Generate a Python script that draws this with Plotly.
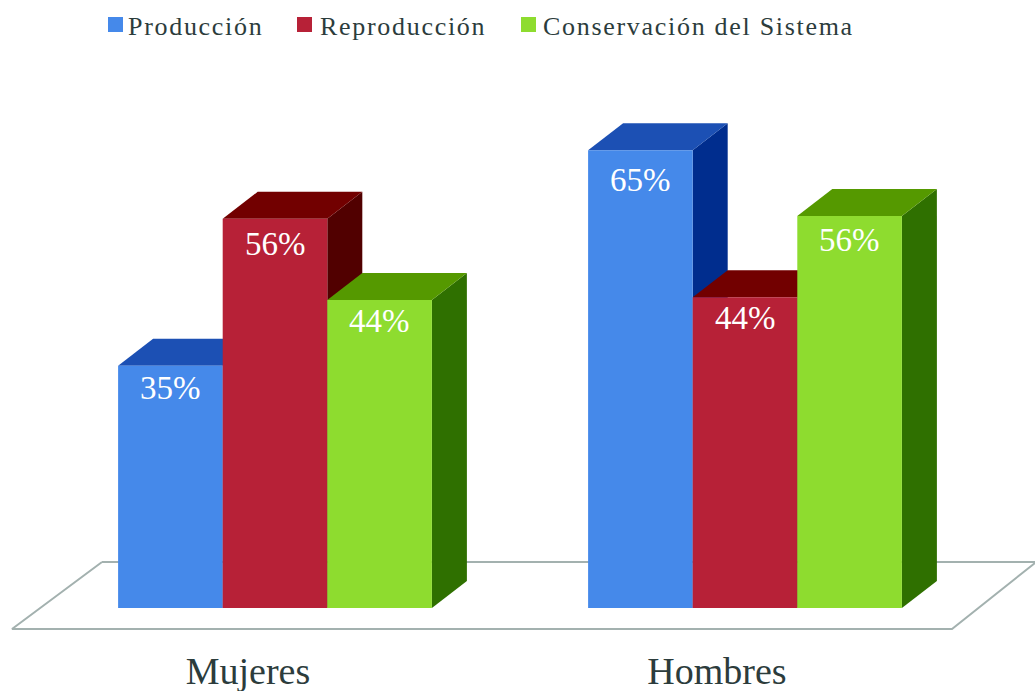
import plotly.graph_objects as go

categorias = ['Mujeres', 'Hombres']
series = ['Producción', 'Reproducción', 'Conservación del Sistema']

# altura, % por serie (Mujeres, Hombres)
produccion = [34.6, 65.4]
reproduccion = [55.6, 44.4]
conservacion = [44.0, 56.0]
etiquetas = [['35%', '65%'], ['56%', '44%'], ['44%', '56%']]
valores = [produccion, reproduccion, conservacion]

col_frente = ['#4589EA', '#B72137', '#8EDC2F']
col_tapa = ['#1C50B4', '#720000', '#559900']
col_lado = ['#002D8E', '#510000', '#2F7000']

W, H = 1035, 691
y_base = 608      # pixel del cero
px_y = 7.0        # pixeles por unidad
y_eje = 645       # pixel del eje x

centros = [275, 745]    # centro de cada grupo
pos_ticks = [248, 717]
ancho = 104.6
prof_x = 35
prof_y = 27 / px_y

# distancia en pixeles de la tapa al centro de cada etiqueta
baja_etiqueta = [[22, 30], [25, 21], [21, 24]]

# suelo, detras de las barras
suelo_x = [102, 12, 952, 1040]
suelo_y = [(y_base - 562) / px_y, (y_base - 629) / px_y, (y_base - 629) / px_y, (y_base - 559) / px_y]

fig = go.Figure()

fig.add_trace(go.Scatter(x=suelo_x, y=suelo_y, mode='lines', line=dict(color='#A3B1AF', width=2),
                         showlegend=False, hoverinfo='skip'))
fig.add_trace(go.Scatter(x=[102, 1040], y=[suelo_y[0], suelo_y[0]], mode='lines',
                         line=dict(color='#A3B1AF', width=2), showlegend=False, hoverinfo='skip'))

# caras laterales y tapas, de izquierda a derecha
for g, centro in enumerate(centros):
    for s in range(3):
        x0 = centro + (s - 1.5) * ancho
        x1 = x0 + ancho
        v = valores[s][g]
        fig.add_trace(go.Scatter(x=[x1, x1 + prof_x, x1 + prof_x, x1, x1],
                                 y=[0, prof_y, v + prof_y, v, 0],
                                 mode='lines', fill='toself', fillcolor=col_lado[s], line=dict(width=0),
                                 showlegend=False, hoverinfo='skip'))
        fig.add_trace(go.Scatter(x=[x0, x1, x1 + prof_x, x0 + prof_x, x0],
                                 y=[v, v, v + prof_y, v + prof_y, v],
                                 mode='lines', fill='toself', fillcolor=col_tapa[s], line=dict(width=0),
                                 showlegend=False, hoverinfo='skip'))

# caras frontales en ejes superpuestos para que tapen lo anterior
for s in range(3):
    fig.add_trace(go.Bar(x=[c + (s - 1) * ancho for c in centros], y=valores[s], width=ancho, name=series[s],
                         marker=dict(color=col_frente[s], line=dict(width=0)),
                         xaxis='x2', yaxis='y2', showlegend=False))
    for g, centro in enumerate(centros):
        fig.add_annotation(xref='x2', yref='y2', x=centro + (s - 1) * ancho, y=valores[s][g], yanchor='middle',
                           yshift=-baja_etiqueta[s][g], showarrow=False, text=etiquetas[s][g],
                           font=dict(family='Liberation Serif', size=33, color='white'))

fig.update_layout(
    width=W, height=H, margin=dict(l=0, r=0, t=0, b=H - y_eje),
    paper_bgcolor='white', plot_bgcolor='white', barmode='overlay',
    xaxis=dict(range=[0, W], tickvals=pos_ticks, ticktext=categorias, ticks='', showgrid=False, zeroline=False,
               showline=False, tickfont=dict(family='Liberation Serif', size=38, color='#2C3C3C')),
    yaxis=dict(range=[(y_base - y_eje) / px_y, y_base / px_y], visible=False),
    xaxis2=dict(overlaying='x', matches='x', visible=False),
    yaxis2=dict(overlaying='y', matches='y', visible=False),
)

# leyenda
leyenda_cuadro = [108, 297, 521]
leyenda_texto = [126, 318, 541]
for s in range(3):
    fig.add_shape(type='rect', xref='x', yref='paper', x0=leyenda_cuadro[s], x1=leyenda_cuadro[s] + 15,
                  y0=(y_eje - 32) / y_eje, y1=(y_eje - 17) / y_eje, fillcolor=col_frente[s], line=dict(width=0))
    fig.add_annotation(xref='x', yref='paper', x=leyenda_texto[s], y=(y_eje - 26) / y_eje, xanchor='left', yanchor='middle',
                       showarrow=False, font=dict(family='Liberation Serif', size=26, color='#2C3C3C'),
                       text='<span style="letter-spacing:1.7px">' + series[s] + '</span>')

# sin el margen del body la figura ocupa toda la ventana
fig.write_html("out.html", config={'displayModeBar': False}, post_script="document.body.style.margin='0';")
